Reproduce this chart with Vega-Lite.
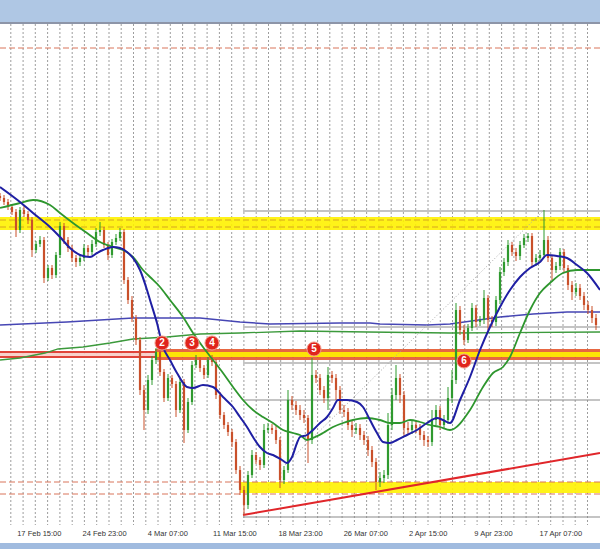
{
 "$schema": "https://vega.github.io/schema/vega-lite/v6.json",
 "width": 600,
 "height": 501,
 "autosize": {"type": "none"},
 "padding": {"left": 0, "right": 0, "top": 24, "bottom": 24},
 "background": "#ffffff",
 "config": {"view": {"stroke": null}, "axisY": {"disable": true}},
 "datasets": {
  "bands": [
   {"kind": "topbar", "t1": 0, "t2": 600, "v1": 495, "v2": 540},
   {"kind": "bottombar", "t1": 0, "t2": 600, "v1": -26, "v2": -40},
   {"kind": "yellow", "t1": 0, "t2": 600, "v1": 287, "v2": 300},
   {"kind": "yellow", "t1": 240, "t2": 600, "v1": 24, "v2": 35},
   {"kind": "pink", "t1": 0, "t2": 155, "v1": 160, "v2": 165},
   {"kind": "orange", "t1": 155, "t2": 600, "v1": 157, "v2": 168},
   {"kind": "yellow", "t1": 155, "t2": 600, "v1": 160, "v2": 165}
  ],
  "grid": [
   {"t":10.8},{"t":23.1},{"t":35.3},{"t":47.6},{"t":59.9},{"t":72.2},{"t":84.4},{"t":96.7},{"t":109},{"t":121.2},{"t":133.5},{"t":145.8},{"t":158},{"t":170.3},{"t":182.6},{"t":194.9},{"t":207.1},{"t":219.4},{"t":231.7},{"t":243.9},{"t":256.2},{"t":268.5},{"t":280.7},{"t":293},{"t":305.3},{"t":317.6},{"t":329.8},{"t":342.1},{"t":354.4},{"t":366.6},{"t":378.9},{"t":391.2},{"t":403.4},{"t":415.7},{"t":428},{"t":440.3},{"t":452.5},{"t":464.8},{"t":477.1},{"t":489.3},{"t":501.6},{"t":513.9},{"t":526.1},{"t":538.4},{"t":550.7},{"t":563},{"t":575.2},{"t":587.5}
  ],
  "levels": [
   {"kind": "topline", "t1": 0, "t2": 600, "v": 494},
   {"kind": "reddash", "t1": 0, "t2": 600, "v": 469},
   {"kind": "reddash", "t1": 0, "t2": 600, "v": 35},
   {"kind": "reddash", "t1": 0, "t2": 600, "v": 23},
   {"kind": "yellowdash", "t1": 0, "t2": 600, "v": 297},
   {"kind": "yellowdash", "t1": 0, "t2": 600, "v": 290},
   {"kind": "redline", "t1": 0, "t2": 155, "v": 165},
   {"kind": "redline", "t1": 0, "t2": 155, "v": 160},
   {"kind": "gray", "t1": 243, "t2": 600, "v": 306},
   {"kind": "gray", "t1": 243, "t2": 600, "v": 190},
   {"kind": "gray", "t1": 243, "t2": 600, "v": 154},
   {"kind": "gray", "t1": 243, "t2": 600, "v": 117},
   {"kind": "gray", "t1": 243, "t2": 600, "v": 0}
  ],
  "trend": [
   {"kind": "red", "t": 243, "v": 2}, {"kind": "red", "t": 600, "v": 64},
   {"kind": "dot", "t": 285, "v": 52}, {"kind": "dot", "t": 544, "v": 307}
  ],
  "markers": [
   {"t": 162, "v": 174, "n": "2"}, {"t": 192, "v": 174, "n": "3"}, {"t": 212, "v": 174, "n": "4"},
   {"t": 314, "v": 168, "n": "5"}, {"t": 464, "v": 156, "n": "6"}
  ],
  "ma": [
   {"s":"fast","t":0,"v":330},{"s":"fast","t":20,"v":315},{"s":"fast","t":33,"v":304},{"s":"fast","t":50,"v":290},{"s":"fast","t":60,"v":280},{"s":"fast","t":70,"v":269},{"s":"fast","t":80,"v":262},{"s":"fast","t":90,"v":260},{"s":"fast","t":97,"v":264},{"s":"fast","t":103,"v":267},{"s":"fast","t":113,"v":270},{"s":"fast","t":120,"v":269},{"s":"fast","t":127,"v":265},{"s":"fast","t":133,"v":259},{"s":"fast","t":140,"v":247},{"s":"fast","t":147,"v":227},{"s":"fast","t":150,"v":217},{"s":"fast","t":157,"v":194},{"s":"fast","t":163,"v":170},{"s":"fast","t":170,"v":157},{"s":"fast","t":177,"v":144},{"s":"fast","t":187,"v":130},{"s":"fast","t":193,"v":129},{"s":"fast","t":203,"v":132},{"s":"fast","t":213,"v":130},{"s":"fast","t":223,"v":120},{"s":"fast","t":233,"v":110},{"s":"fast","t":240,"v":100},{"s":"fast","t":247,"v":90},{"s":"fast","t":253,"v":80},{"s":"fast","t":260,"v":70},{"s":"fast","t":267,"v":64},{"s":"fast","t":273,"v":62},{"s":"fast","t":282,"v":57},{"s":"fast","t":287,"v":54},{"s":"fast","t":292,"v":60},{"s":"fast","t":297,"v":74},{"s":"fast","t":300,"v":80},{"s":"fast","t":307,"v":82},{"s":"fast","t":313,"v":87},{"s":"fast","t":320,"v":94},{"s":"fast","t":327,"v":100},{"s":"fast","t":333,"v":109},{"s":"fast","t":338,"v":117},{"s":"fast","t":347,"v":117},{"s":"fast","t":357,"v":115},{"s":"fast","t":363,"v":110},{"s":"fast","t":370,"v":97},{"s":"fast","t":377,"v":84},{"s":"fast","t":383,"v":75},{"s":"fast","t":390,"v":74},{"s":"fast","t":397,"v":77},{"s":"fast","t":407,"v":82},{"s":"fast","t":417,"v":87},{"s":"fast","t":427,"v":94},{"s":"fast","t":437,"v":99},{"s":"fast","t":443,"v":97},{"s":"fast","t":450,"v":94},{"s":"fast","t":460,"v":117},{"s":"fast","t":470,"v":140},{"s":"fast","t":480,"v":167},{"s":"fast","t":490,"v":190},{"s":"fast","t":500,"v":210},{"s":"fast","t":510,"v":227},{"s":"fast","t":520,"v":240},{"s":"fast","t":530,"v":249},{"s":"fast","t":540,"v":255},{"s":"fast","t":547,"v":262},{"s":"fast","t":557,"v":261},{"s":"fast","t":567,"v":259},{"s":"fast","t":577,"v":252},{"s":"fast","t":587,"v":244},{"s":"fast","t":600,"v":227},
   {"s":"slow","t":0,"v":309},{"s":"slow","t":20,"v":314},{"s":"slow","t":33,"v":317},{"s":"slow","t":50,"v":312},{"s":"slow","t":60,"v":304},{"s":"slow","t":73,"v":294},{"s":"slow","t":87,"v":284},{"s":"slow","t":100,"v":275},{"s":"slow","t":113,"v":270},{"s":"slow","t":123,"v":267},{"s":"slow","t":133,"v":260},{"s":"slow","t":143,"v":247},{"s":"slow","t":150,"v":240},{"s":"slow","t":160,"v":230},{"s":"slow","t":170,"v":217},{"s":"slow","t":183,"v":200},{"s":"slow","t":193,"v":184},{"s":"slow","t":203,"v":170},{"s":"slow","t":213,"v":157},{"s":"slow","t":223,"v":144},{"s":"slow","t":233,"v":130},{"s":"slow","t":243,"v":117},{"s":"slow","t":253,"v":107},{"s":"slow","t":263,"v":100},{"s":"slow","t":273,"v":94},{"s":"slow","t":283,"v":87},{"s":"slow","t":293,"v":84},{"s":"slow","t":300,"v":82},{"s":"slow","t":307,"v":77},{"s":"slow","t":313,"v":79},{"s":"slow","t":323,"v":84},{"s":"slow","t":333,"v":90},{"s":"slow","t":343,"v":94},{"s":"slow","t":353,"v":97},{"s":"slow","t":367,"v":99},{"s":"slow","t":380,"v":97},{"s":"slow","t":390,"v":94},{"s":"slow","t":400,"v":94},{"s":"slow","t":410,"v":97},{"s":"slow","t":420,"v":95},{"s":"slow","t":430,"v":92},{"s":"slow","t":440,"v":90},{"s":"slow","t":450,"v":87},{"s":"slow","t":470,"v":107},{"s":"slow","t":483,"v":130},{"s":"slow","t":493,"v":144},{"s":"slow","t":503,"v":150},{"s":"slow","t":510,"v":160},{"s":"slow","t":520,"v":184},{"s":"slow","t":530,"v":207},{"s":"slow","t":540,"v":224},{"s":"slow","t":550,"v":234},{"s":"slow","t":563,"v":244},{"s":"slow","t":577,"v":247},{"s":"slow","t":600,"v":247},
   {"s":"long1","t":0,"v":192},{"s":"long1","t":67,"v":195},{"s":"long1","t":133,"v":199},{"s":"long1","t":200,"v":199},{"s":"long1","t":240,"v":195},{"s":"long1","t":270,"v":193},{"s":"long1","t":340,"v":194},{"s":"long1","t":370,"v":194},{"s":"long1","t":380,"v":193},{"s":"long1","t":427,"v":192},{"s":"long1","t":450,"v":193},{"s":"long1","t":500,"v":200},{"s":"long1","t":533,"v":203},{"s":"long1","t":567,"v":205},{"s":"long1","t":600,"v":205},
   {"s":"long2","t":0,"v":157},{"s":"long2","t":20,"v":159},{"s":"long2","t":45,"v":164},{"s":"long2","t":58,"v":168},{"s":"long2","t":83,"v":170},{"s":"long2","t":110,"v":174},{"s":"long2","t":133,"v":178},{"s":"long2","t":167,"v":180},{"s":"long2","t":200,"v":183},{"s":"long2","t":240,"v":184},{"s":"long2","t":300,"v":186},{"s":"long2","t":367,"v":185},{"s":"long2","t":450,"v":184},{"s":"long2","t":600,"v":185}
  ],
  "candles": [
   {"t":0,"o":321,"h":324,"l":316,"c":319},{"t":4,"o":319,"h":322,"l":312,"c":315},{"t":8,"o":315,"h":318,"l":307,"c":310},{"t":12,"o":310,"h":313,"l":302,"c":305},{"t":16,"o":305,"h":308,"l":280,"c":287},{"t":20,"o":287,"h":310,"l":284,"c":307},{"t":24,"o":307,"h":311,"l":300,"c":303},{"t":28,"o":303,"h":306,"l":293,"c":297},{"t":32,"o":297,"h":300,"l":260,"c":267},{"t":36,"o":267,"h":276,"l":264,"c":273},{"t":40,"o":273,"h":281,"l":270,"c":277},{"t":44,"o":277,"h":280,"l":234,"c":239},{"t":48,"o":239,"h":252,"l":236,"c":249},{"t":52,"o":249,"h":252,"l":238,"c":242},{"t":56,"o":242,"h":265,"l":239,"c":262},{"t":60,"o":262,"h":295,"l":259,"c":291},{"t":64,"o":291,"h":294,"l":273,"c":277},{"t":68,"o":277,"h":280,"l":265,"c":269},{"t":72,"o":269,"h":272,"l":255,"c":259},{"t":76,"o":259,"h":262,"l":250,"c":255},{"t":80,"o":255,"h":263,"l":251,"c":259},{"t":84,"o":259,"h":273,"l":256,"c":269},{"t":88,"o":269,"h":272,"l":261,"c":265},{"t":92,"o":265,"h":277,"l":262,"c":273},{"t":96,"o":273,"h":289,"l":270,"c":285},{"t":100,"o":285,"h":295,"l":281,"c":287},{"t":104,"o":287,"h":290,"l":269,"c":272},{"t":108,"o":272,"h":275,"l":257,"c":262},{"t":112,"o":262,"h":278,"l":259,"c":275},{"t":116,"o":275,"h":283,"l":272,"c":279},{"t":120,"o":279,"h":289,"l":276,"c":285},{"t":124,"o":285,"h":288,"l":233,"c":237},{"t":128,"o":237,"h":240,"l":213,"c":217},{"t":132,"o":217,"h":221,"l":195,"c":199},{"t":136,"o":199,"h":202,"l":172,"c":177},{"t":140,"o":177,"h":180,"l":122,"c":127},{"t":144,"o":127,"h":132,"l":87,"c":107},{"t":148,"o":107,"h":142,"l":103,"c":137},{"t":152,"o":137,"h":161,"l":132,"c":157},{"t":156,"o":157,"h":169,"l":153,"c":165},{"t":160,"o":165,"h":168,"l":141,"c":145},{"t":164,"o":145,"h":148,"l":115,"c":119},{"t":168,"o":119,"h":143,"l":116,"c":139},{"t":172,"o":139,"h":142,"l":129,"c":133},{"t":176,"o":133,"h":136,"l":100,"c":107},{"t":180,"o":107,"h":139,"l":104,"c":135},{"t":184,"o":135,"h":138,"l":74,"c":87},{"t":188,"o":87,"h":119,"l":84,"c":115},{"t":192,"o":115,"h":156,"l":112,"c":152},{"t":196,"o":152,"h":162,"l":149,"c":157},{"t":200,"o":157,"h":160,"l":145,"c":149},{"t":204,"o":149,"h":152,"l":138,"c":142},{"t":208,"o":142,"h":160,"l":139,"c":157},{"t":212,"o":157,"h":162,"l":151,"c":155},{"t":216,"o":155,"h":158,"l":118,"c":122},{"t":220,"o":122,"h":125,"l":98,"c":102},{"t":224,"o":102,"h":105,"l":88,"c":92},{"t":228,"o":92,"h":95,"l":81,"c":85},{"t":232,"o":85,"h":88,"l":70,"c":75},{"t":236,"o":75,"h":78,"l":43,"c":47},{"t":240,"o":47,"h":51,"l":22,"c":27},{"t":244,"o":27,"h":31,"l":2,"c":12},{"t":248,"o":12,"h":46,"l":8,"c":42},{"t":252,"o":42,"h":67,"l":39,"c":62},{"t":256,"o":62,"h":65,"l":53,"c":57},{"t":260,"o":57,"h":60,"l":47,"c":52},{"t":264,"o":52,"h":93,"l":49,"c":87},{"t":268,"o":87,"h":94,"l":84,"c":89},{"t":272,"o":89,"h":93,"l":83,"c":87},{"t":276,"o":87,"h":91,"l":73,"c":77},{"t":280,"o":77,"h":80,"l":29,"c":37},{"t":284,"o":37,"h":51,"l":33,"c":47},{"t":288,"o":47,"h":127,"l":44,"c":117},{"t":292,"o":117,"h":121,"l":107,"c":112},{"t":296,"o":112,"h":116,"l":102,"c":107},{"t":300,"o":107,"h":112,"l":97,"c":102},{"t":304,"o":102,"h":107,"l":94,"c":99},{"t":308,"o":99,"h":102,"l":54,"c":77},{"t":312,"o":77,"h":159,"l":73,"c":142},{"t":316,"o":142,"h":147,"l":134,"c":139},{"t":320,"o":139,"h":143,"l":122,"c":127},{"t":324,"o":127,"h":131,"l":114,"c":119},{"t":328,"o":119,"h":150,"l":107,"c":142},{"t":332,"o":142,"h":146,"l":134,"c":139},{"t":336,"o":139,"h":143,"l":117,"c":127},{"t":340,"o":127,"h":131,"l":103,"c":107},{"t":344,"o":107,"h":112,"l":100,"c":105},{"t":348,"o":105,"h":109,"l":87,"c":92},{"t":352,"o":92,"h":97,"l":80,"c":87},{"t":356,"o":87,"h":94,"l":83,"c":89},{"t":360,"o":89,"h":93,"l":77,"c":82},{"t":364,"o":82,"h":86,"l":72,"c":77},{"t":368,"o":77,"h":81,"l":61,"c":67},{"t":372,"o":67,"h":71,"l":50,"c":55},{"t":376,"o":55,"h":59,"l":27,"c":35},{"t":380,"o":35,"h":45,"l":30,"c":39},{"t":384,"o":39,"h":47,"l":34,"c":42},{"t":388,"o":42,"h":104,"l":38,"c":92},{"t":392,"o":92,"h":129,"l":87,"c":122},{"t":396,"o":122,"h":152,"l":117,"c":139},{"t":400,"o":139,"h":143,"l":114,"c":122},{"t":404,"o":122,"h":126,"l":80,"c":89},{"t":408,"o":89,"h":95,"l":82,"c":87},{"t":412,"o":87,"h":96,"l":83,"c":92},{"t":416,"o":92,"h":96,"l":84,"c":89},{"t":420,"o":89,"h":93,"l":77,"c":82},{"t":424,"o":82,"h":86,"l":71,"c":77},{"t":428,"o":77,"h":81,"l":70,"c":75},{"t":432,"o":75,"h":107,"l":71,"c":97},{"t":436,"o":97,"h":112,"l":92,"c":107},{"t":440,"o":107,"h":111,"l":87,"c":92},{"t":444,"o":92,"h":102,"l":88,"c":97},{"t":448,"o":97,"h":130,"l":93,"c":119},{"t":452,"o":119,"h":147,"l":114,"c":137},{"t":456,"o":137,"h":214,"l":133,"c":207},{"t":460,"o":207,"h":211,"l":182,"c":187},{"t":464,"o":187,"h":192,"l":172,"c":177},{"t":468,"o":177,"h":193,"l":174,"c":189},{"t":472,"o":189,"h":214,"l":186,"c":209},{"t":476,"o":209,"h":212,"l":190,"c":195},{"t":480,"o":195,"h":201,"l":191,"c":197},{"t":484,"o":197,"h":227,"l":193,"c":219},{"t":488,"o":219,"h":222,"l":187,"c":197},{"t":492,"o":197,"h":201,"l":190,"c":195},{"t":496,"o":195,"h":221,"l":191,"c":217},{"t":500,"o":217,"h":250,"l":213,"c":245},{"t":504,"o":245,"h":259,"l":241,"c":255},{"t":508,"o":255,"h":277,"l":251,"c":272},{"t":512,"o":272,"h":275,"l":261,"c":265},{"t":516,"o":265,"h":269,"l":256,"c":261},{"t":520,"o":261,"h":276,"l":257,"c":272},{"t":524,"o":272,"h":283,"l":269,"c":279},{"t":528,"o":279,"h":284,"l":275,"c":281},{"t":532,"o":281,"h":284,"l":250,"c":255},{"t":536,"o":255,"h":263,"l":251,"c":259},{"t":540,"o":259,"h":267,"l":256,"c":262},{"t":544,"o":262,"h":307,"l":259,"c":277},{"t":548,"o":277,"h":281,"l":255,"c":259},{"t":552,"o":259,"h":262,"l":237,"c":247},{"t":556,"o":247,"h":255,"l":244,"c":251},{"t":560,"o":251,"h":269,"l":247,"c":265},{"t":564,"o":265,"h":268,"l":244,"c":249},{"t":568,"o":249,"h":252,"l":227,"c":232},{"t":572,"o":232,"h":236,"l":217,"c":225},{"t":576,"o":225,"h":234,"l":221,"c":229},{"t":580,"o":229,"h":233,"l":217,"c":221},{"t":584,"o":221,"h":225,"l":207,"c":212},{"t":588,"o":212,"h":216,"l":203,"c":207},{"t":592,"o":207,"h":211,"l":194,"c":199},{"t":596,"o":199,"h":203,"l":187,"c":192}
  ]
 },
 "layer": [
  {
   "data": {"name": "grid"},
   "mark": {"type": "rule", "color": "#8c8c8c", "strokeWidth": 1, "strokeDash": [2, 2], "opacity": 0.85},
   "encoding": {
    "x": {"field": "t", "type": "quantitative", "scale": {"domain": [0, 600], "nice": false, "zero": false},
     "axis": {
      "title": null,
      "values": [16.7, 82, 147.3, 212.6, 277.9, 343.2, 408.5, 473.8, 539.1],
      "grid": false,
      "labelExpr": "['17 Feb 15:00','24 Feb 23:00','4 Mar 07:00','11 Mar 15:00','18 Mar 23:00','26 Mar 07:00','2 Apr 15:00','9 Apr 23:00','17 Apr 07:00'][round((datum.value - 16.7) / 65.3)]",
      "labelAlign": "left",
      "labelBaseline": "middle",
      "labelPadding": 8,
      "labelFont": "Liberation Sans",
      "labelFontSize": 7.5,
      "labelColor": "#333333",
      "labelOverlap": false,
      "labelBound": false,
      "labelFlush": false,
      "ticks": false,
      "tickSize": 0,
      "domain": false
     }}
   }
  },
  {
   "data": {"name": "bands"},
   "mark": {"type": "rect", "opacity": 0.9},
   "encoding": {
    "x": {"field": "t1", "type": "quantitative"},
    "x2": {"field": "t2"},
    "y": {"field": "v1", "type": "quantitative", "scale": {"domain": [-8, 493], "nice": false, "zero": false}},
    "y2": {"field": "v2"},
    "color": {"field": "kind", "type": "nominal", "legend": null,
     "scale": {"domain": ["topbar", "bottombar", "yellow", "pink", "orange"], "range": ["#a6c1e1", "#96b4dc", "#fff200", "#f7cdc6", "#e4572e"]}}
   }
  },
  {
   "data": {"name": "levels"},
   "transform": [{"filter": "datum.kind == 'topline'"}],
   "mark": {"type": "rule", "color": "#8d95a8", "strokeWidth": 2},
   "encoding": {"x": {"field": "t1", "type": "quantitative"}, "x2": {"field": "t2"}, "y": {"field": "v", "type": "quantitative"}}
  },
  {
   "data": {"name": "levels"},
   "transform": [{"filter": "datum.kind == 'reddash'"}],
   "mark": {"type": "rule", "color": "#d9745a", "strokeWidth": 1, "strokeDash": [6, 3]},
   "encoding": {"x": {"field": "t1", "type": "quantitative"}, "x2": {"field": "t2"}, "y": {"field": "v", "type": "quantitative"}}
  },
  {
   "data": {"name": "levels"},
   "transform": [{"filter": "datum.kind == 'yellowdash'"}],
   "mark": {"type": "rule", "color": "#d6a520", "strokeWidth": 1, "strokeDash": [6, 3]},
   "encoding": {"x": {"field": "t1", "type": "quantitative"}, "x2": {"field": "t2"}, "y": {"field": "v", "type": "quantitative"}}
  },
  {
   "data": {"name": "levels"},
   "transform": [{"filter": "datum.kind == 'redline'"}],
   "mark": {"type": "rule", "color": "#e0443a", "strokeWidth": 2},
   "encoding": {"x": {"field": "t1", "type": "quantitative"}, "x2": {"field": "t2"}, "y": {"field": "v", "type": "quantitative"}}
  },
  {
   "data": {"name": "levels"},
   "transform": [{"filter": "datum.kind == 'gray'"}],
   "mark": {"type": "rule", "color": "#8a8a8a", "strokeWidth": 1.2},
   "encoding": {"x": {"field": "t1", "type": "quantitative"}, "x2": {"field": "t2"}, "y": {"field": "v", "type": "quantitative"}}
  },
  {
   "data": {"name": "ma"},
   "transform": [{"filter": "datum.s == 'long1'"}],
   "mark": {"type": "line", "color": "#4646b4", "strokeWidth": 1.6},
   "encoding": {"x": {"field": "t", "type": "quantitative"}, "y": {"field": "v", "type": "quantitative"}}
  },
  {
   "data": {"name": "ma"},
   "transform": [{"filter": "datum.s == 'long2'"}],
   "mark": {"type": "line", "color": "#3c9a3c", "strokeWidth": 1.3},
   "encoding": {"x": {"field": "t", "type": "quantitative"}, "y": {"field": "v", "type": "quantitative"}}
  },
  {
   "data": {"name": "trend"},
   "transform": [{"filter": "datum.kind == 'dot'"}],
   "mark": {"type": "line", "color": "#a8a8a8", "strokeWidth": 1, "strokeDash": [1, 2]},
   "encoding": {"x": {"field": "t", "type": "quantitative"}, "y": {"field": "v", "type": "quantitative"}}
  },
  {
   "data": {"name": "trend"},
   "transform": [{"filter": "datum.kind == 'red'"}],
   "mark": {"type": "line", "color": "#e0262a", "strokeWidth": 2},
   "encoding": {"x": {"field": "t", "type": "quantitative"}, "y": {"field": "v", "type": "quantitative"}}
  },
  {
   "data": {"name": "candles"},
   "mark": {"type": "rule", "strokeWidth": 1},
   "encoding": {
    "x": {"field": "t", "type": "quantitative"},
    "y": {"field": "l", "type": "quantitative"},
    "y2": {"field": "h"},
    "color": {"condition": {"test": "datum.c >= datum.o", "value": "#2f9a2f"}, "value": "#c9502a"}
   }
  },
  {
   "data": {"name": "candles"},
   "mark": {"type": "rule", "strokeWidth": 2.2},
   "encoding": {
    "x": {"field": "t", "type": "quantitative"},
    "y": {"field": "o", "type": "quantitative"},
    "y2": {"field": "c"},
    "color": {"condition": {"test": "datum.c >= datum.o", "value": "#2f9a2f"}, "value": "#c9502a"}
   }
  },
  {
   "data": {"name": "ma"},
   "transform": [{"filter": "datum.s == 'slow'"}],
   "mark": {"type": "line", "color": "#2e962e", "strokeWidth": 1.8, "interpolate": "monotone"},
   "encoding": {"x": {"field": "t", "type": "quantitative"}, "y": {"field": "v", "type": "quantitative"}}
  },
  {
   "data": {"name": "ma"},
   "transform": [{"filter": "datum.s == 'fast'"}],
   "mark": {"type": "line", "color": "#1f1fa3", "strokeWidth": 2, "interpolate": "monotone"},
   "encoding": {"x": {"field": "t", "type": "quantitative"}, "y": {"field": "v", "type": "quantitative"}}
  },
  {
   "data": {"name": "markers"},
   "mark": {"type": "circle", "size": 200, "color": "#e0241c", "opacity": 1, "stroke": "#f3a090", "strokeWidth": 1},
   "encoding": {"x": {"field": "t", "type": "quantitative"}, "y": {"field": "v", "type": "quantitative"}}
  },
  {
   "data": {"name": "markers"},
   "mark": {"type": "text", "color": "#ffffff", "font": "Liberation Sans", "fontSize": 10, "fontWeight": "bold", "align": "center", "baseline": "middle"},
   "encoding": {"x": {"field": "t", "type": "quantitative"}, "y": {"field": "v", "type": "quantitative"}, "text": {"field": "n"}}
  }
 ]
}
